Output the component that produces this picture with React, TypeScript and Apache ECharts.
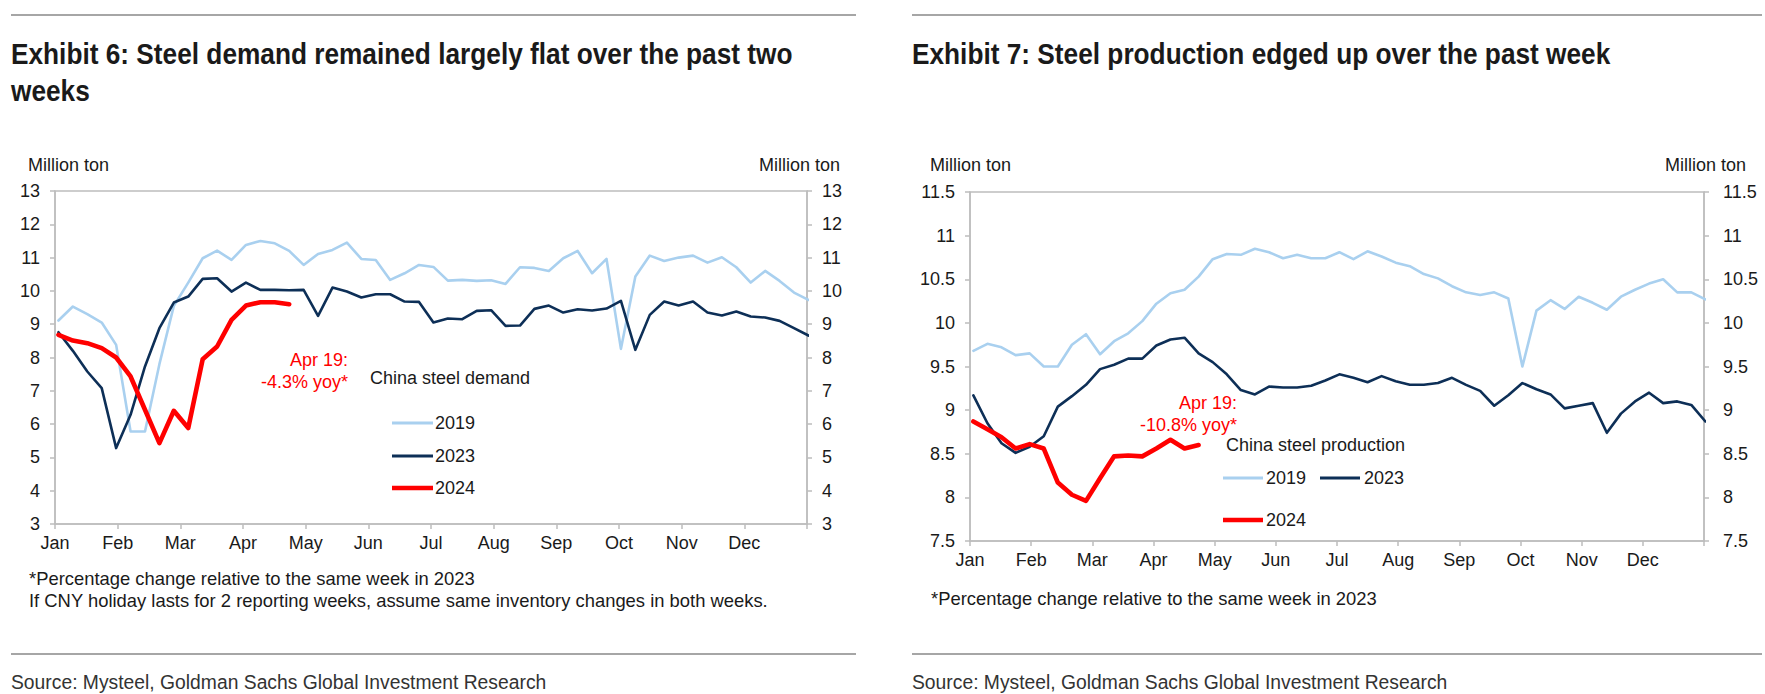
import React, { useEffect, useRef } from 'react';
import * as echarts from 'echarts';

const MONTHS = ['Jan', 'Feb', 'Mar', 'Apr', 'May', 'Jun', 'Jul', 'Aug', 'Sep', 'Oct', 'Nov', 'Dec'];

// Exhibit 6: China steel demand, million ton (weekly)
const demand2019 = [9.11, 9.53, 9.3, 9.05, 8.38, 5.78, 5.78, 7.8, 9.55, 10.25, 10.98, 11.21, 10.93, 11.38, 11.5, 11.43, 11.2, 10.78, 11.11, 11.23, 11.45, 10.96, 10.93, 10.33, 10.53, 10.78, 10.72, 10.31, 10.33, 10.3, 10.32, 10.21, 10.71, 10.69, 10.6, 10.98, 11.2, 10.53, 10.96, 8.26, 10.43, 11.06, 10.9, 11.0, 11.06, 10.85, 11.01, 10.71, 10.25, 10.6, 10.3, 9.95, 9.73];
const demand2023 = [8.76, 8.2, 7.58, 7.08, 5.28, 6.28, 7.73, 8.88, 9.65, 9.83, 10.36, 10.38, 9.98, 10.25, 10.03, 10.03, 10.02, 10.03, 9.25, 10.1, 9.98, 9.8, 9.9, 9.9, 9.68, 9.67, 9.05, 9.17, 9.15, 9.4, 9.42, 8.95, 8.96, 9.46, 9.56, 9.35, 9.45, 9.41, 9.47, 9.7, 8.23, 9.28, 9.68, 9.56, 9.68, 9.35, 9.26, 9.38, 9.23, 9.2, 9.1, 8.88, 8.66];
const demand2024 = [8.68, 8.51, 8.43, 8.28, 8.0, 7.43, 6.43, 5.43, 6.4, 5.88, 7.95, 8.33, 9.13, 9.56, 9.66, 9.66, 9.6];

// Exhibit 7: China steel production, million ton (weekly)
const prod2019 = [9.68, 9.76, 9.72, 9.63, 9.65, 9.5, 9.5, 9.75, 9.87, 9.64, 9.79, 9.88, 10.02, 10.22, 10.34, 10.38, 10.53, 10.73, 10.79, 10.78, 10.85, 10.81, 10.74, 10.78, 10.74, 10.74, 10.81, 10.73, 10.82, 10.76, 10.69, 10.65, 10.56, 10.51, 10.42, 10.35, 10.32, 10.35, 10.28, 9.5, 10.14, 10.26, 10.16, 10.3, 10.23, 10.15, 10.3, 10.38, 10.45, 10.5, 10.35, 10.35, 10.27];
const prod2023 = [9.17, 8.85, 8.62, 8.51, 8.58, 8.7, 9.04, 9.16, 9.29, 9.47, 9.52, 9.59, 9.59, 9.74, 9.81, 9.83, 9.65, 9.55, 9.41, 9.23, 9.18, 9.27, 9.26, 9.26, 9.28, 9.34, 9.41, 9.37, 9.32, 9.39, 9.33, 9.29, 9.29, 9.31, 9.37, 9.29, 9.22, 9.05, 9.17, 9.31, 9.24, 9.18, 9.02, 9.05, 9.08, 8.74, 8.96, 9.1, 9.2, 9.08, 9.1, 9.06, 8.87];
const prod2024 = [8.87, 8.78, 8.69, 8.56, 8.61, 8.56, 8.17, 8.03, 7.96, 8.22, 8.47, 8.48, 8.47, 8.56, 8.66, 8.56, 8.6];

const FONT = '"Liberation Sans", Arial, sans-serif';
const C2019 = '#a9d0ef';
const C2023 = '#0d2f57';
const C2024 = '#ff0000';
const AXIS = '#bdbdbd';
const TEXT = '#1a1a1a';
const FS = 18;

// weekly points spread over the 12 month-wide slots
const FIRST = 0.055;
const STEP = 12 / 52.14;
const pts = (arr: number[]) => arr.map((v, i) => [FIRST + i * STEP, v]);

const xAxisFor = (gridIndex: number) => ({
  gridIndex,
  type: 'value',
  min: 0,
  max: 12,
  interval: 1,
  axisLine: { show: true, lineStyle: { color: AXIS, width: 1.5 } },
  axisTick: { show: true, length: 5, lineStyle: { color: AXIS, width: 1.5 } },
  axisLabel: {
    formatter: (v: number) => MONTHS[Math.round(v)] ?? '',
    fontSize: FS,
    fontFamily: FONT,
    color: TEXT,
    margin: 10,
  },
  splitLine: { show: false },
});

const yAxisFor = (gridIndex: number, min: number, max: number, interval: number, position: string, margin = 15) => ({
  gridIndex,
  type: 'value',
  min,
  max,
  interval,
  position,
  axisLine: { show: true, lineStyle: { color: AXIS, width: 1.5 } },
  axisTick: { show: true, length: 5, lineStyle: { color: AXIS, width: 1.5 } },
  axisLabel: { fontSize: FS, fontFamily: FONT, color: TEXT, margin },
  splitLine: { show: false },
});

const line = (name: string, data: number[], color: string, width: number, xi: number, yi: number, z: number) => ({
  name,
  type: 'line',
  xAxisIndex: xi,
  yAxisIndex: yi,
  data: pts(data),
  showSymbol: false,
  symbol: 'none',
  z,
  lineStyle: { color, width, join: 'round', cap: 'round' },
  emphasis: { disabled: true },
});

const txt = (x: number, y: number, text: string, o: any = {}) => ({
  type: 'text',
  x,
  y,
  silent: true,
  scaleX: o.scaleX ?? 1,
  style: {
    text,
    fill: o.fill ?? TEXT,
    fontSize: o.fontSize ?? FS,
    fontFamily: FONT,
    fontWeight: o.fontWeight ?? 'normal',
    textAlign: o.align ?? 'left',
    align: o.align ?? 'left',
    textVerticalAlign: 'middle',
    verticalAlign: 'middle',
  },
});

const seg = (x1: number, x2: number, y: number, color: string, width: number) => ({
  type: 'line',
  silent: true,
  shape: { x1, y1: y, x2, y2: y },
  style: { stroke: color, lineWidth: width },
});

export default function App() {
  const ref = useRef<HTMLDivElement>(null);

  useEffect(() => {
    if (!ref.current) return;
    const chart = echarts.init(ref.current, undefined, { renderer: 'svg' });
    const option: any = {
      animation: false,
      backgroundColor: '#ffffff',
      textStyle: { fontFamily: FONT },
      grid: [
        { left: 55, top: 191, width: 752, height: 333, show: true, borderColor: AXIS, borderWidth: 1.5 },
        { left: 970, top: 192, width: 734, height: 349, show: true, borderColor: AXIS, borderWidth: 1.5 },
      ],
      xAxis: [xAxisFor(0), xAxisFor(1)],
      yAxis: [
        yAxisFor(0, 3, 13, 1, 'left'),
        yAxisFor(0, 3, 13, 1, 'right'),
        yAxisFor(1, 7.5, 11.5, 0.5, 'left'),
        yAxisFor(1, 7.5, 11.5, 0.5, 'right', 19),
      ],
      series: [
        line('2019', demand2019, C2019, 2.6, 0, 0, 2),
        line('2023', demand2023, C2023, 2.6, 0, 0, 3),
        line('2024', demand2024, C2024, 4.6, 0, 0, 4),
        line('2019', prod2019, C2019, 2.6, 1, 2, 2),
        line('2023', prod2023, C2023, 2.6, 1, 2, 3),
        line('2024', prod2024, C2024, 4.6, 1, 2, 4),
      ],
      graphic: [
        // frame rules
        seg(11, 856, 15, '#a6a6a6', 2),
        seg(912, 1762, 15, '#a6a6a6', 2),
        seg(11, 856, 654, '#a6a6a6', 2),
        seg(912, 1762, 654, '#a6a6a6', 2),
        // titles
        txt(11, 53, 'Exhibit 6: Steel demand remained largely flat over the past two', { fontSize: 30, fontWeight: 'bold', scaleX: 0.875 }),
        txt(11, 90, 'weeks', { fontSize: 30, fontWeight: 'bold', scaleX: 0.875 }),
        txt(912, 53, 'Exhibit 7: Steel production edged up over the past week', { fontSize: 30, fontWeight: 'bold', scaleX: 0.875 }),
        // unit labels
        txt(28, 165, 'Million ton'),
        txt(840, 165, 'Million ton', { align: 'right' }),
        txt(930, 165, 'Million ton'),
        txt(1746, 165, 'Million ton', { align: 'right' }),
        // left annotations & legend
        txt(348, 360, 'Apr 19:', { fill: C2024, align: 'right' }),
        txt(348, 382, '-4.3% yoy*', { fill: C2024, align: 'right' }),
        txt(370, 378, 'China steel demand'),
        seg(392, 433, 423, C2019, 3),
        txt(435, 423, '2019'),
        seg(392, 433, 456, C2023, 3),
        txt(435, 456, '2023'),
        seg(392, 433, 488, C2024, 4.6),
        txt(435, 488, '2024'),
        // right annotations & legend
        txt(1237, 403, 'Apr 19:', { fill: C2024, align: 'right' }),
        txt(1237, 425, '-10.8% yoy*', { fill: C2024, align: 'right' }),
        txt(1226, 445, 'China steel production'),
        seg(1223, 1263, 478, C2019, 3),
        txt(1266, 478, '2019'),
        seg(1320, 1360, 478, C2023, 3),
        txt(1364, 478, '2023'),
        seg(1223, 1263, 520, C2024, 4.6),
        txt(1266, 520, '2024'),
        // footnotes
        txt(29, 578, '*Percentage change relative to the same week in 2023', { fontSize: 18.4 }),
        txt(29, 600, 'If CNY holiday lasts for 2 reporting weeks, assume same inventory changes in both weeks.', { fontSize: 18.4 }),
        txt(931, 598, '*Percentage change relative to the same week in 2023', { fontSize: 18.4 }),
        // sources
        txt(11, 682, 'Source: Mysteel, Goldman Sachs Global Investment Research', { fontSize: 21, fill: '#333333', scaleX: 0.92 }),
        txt(912, 682, 'Source: Mysteel, Goldman Sachs Global Investment Research', { fontSize: 21, fill: '#333333', scaleX: 0.92 }),
      ],
    };
    chart.setOption(option);
    return () => chart.dispose();
  }, []);

  return (
    <div
      ref={ref}
      style={{ position: 'fixed', left: 0, top: 0, width: 1765, height: 694, background: '#fff' }}
    />
  );
}
